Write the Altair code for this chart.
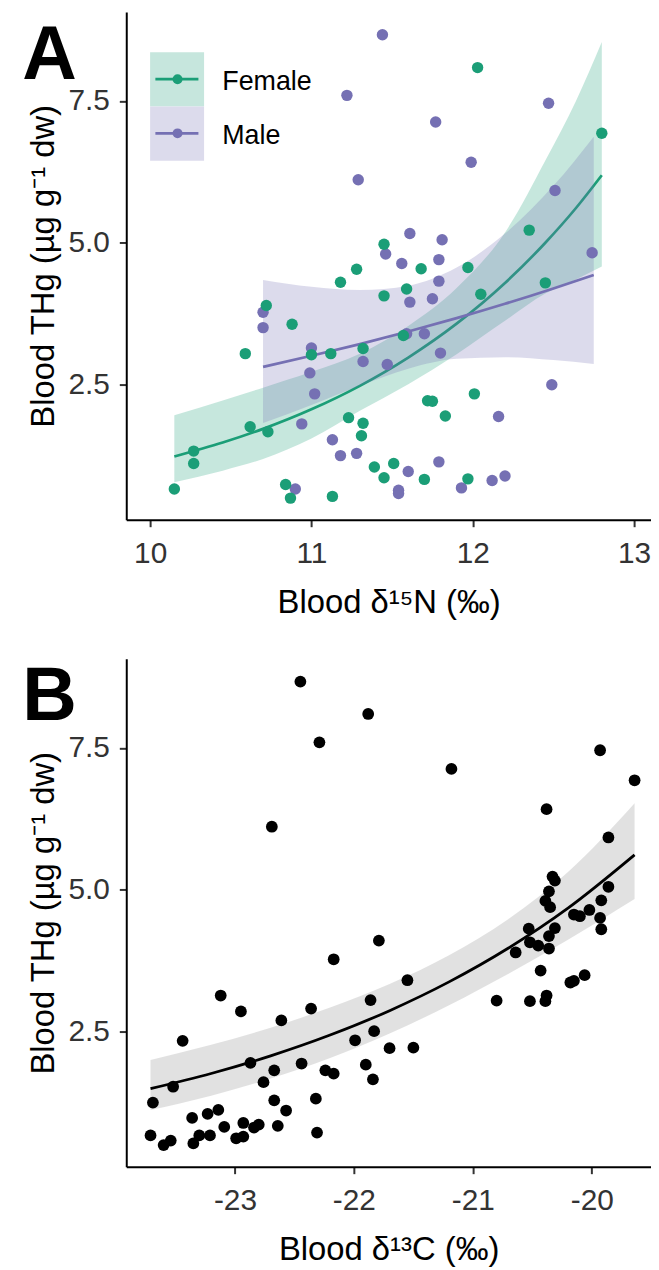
import altair as alt
import pandas as pd

# ---------------- Panel A: blood d15N vs THg by sex ----------------
fem_n15 = [11.28, 11.45, 12.03, 12.80, 12.35, 11.68, 11.97, 11.18, 11.45, 10.72,
           10.88, 10.59, 11.00, 11.12, 11.32, 10.62, 10.73, 11.23, 11.32, 11.31,
           11.39, 11.45, 10.27, 10.27, 10.15, 10.84, 10.87, 11.13, 11.59, 12.05,
           12.45, 11.57, 11.72, 11.75, 12.01, 11.83, 11.51, 11.70, 11.97]
fem_thg = [4.53, 4.97, 8.09, 6.93, 5.22, 4.54, 4.56, 4.30, 4.06, 3.89,
           3.56, 3.04, 3.02, 3.04, 3.13, 1.75, 1.66, 1.91, 1.81, 1.59,
           1.04, 0.85, 1.32, 1.10, 0.65, 0.73, 0.49, 0.52, 4.18, 4.09,
           4.29, 3.36, 2.21, 2.20, 2.33, 1.94, 1.10, 0.82, 0.83]
male_n15 = [11.44, 11.22, 11.29, 12.47, 11.77, 11.99, 12.51, 11.61, 11.81, 11.46,
            11.56, 11.79, 12.74, 10.70, 10.70, 11.00, 10.99, 11.02, 11.32, 11.47,
            10.94, 11.13, 11.18, 11.28, 10.90, 11.79, 11.61, 11.75, 11.59, 11.70,
            11.80, 12.49, 12.16, 11.60, 11.54, 11.54, 11.79, 11.93, 12.12, 12.20]
male_thg = [8.67, 7.60, 6.11, 7.46, 7.13, 6.42, 5.92, 5.16, 5.05, 4.80,
            4.63, 4.70, 4.82, 3.77, 3.50, 3.14, 2.70, 2.33, 2.90, 2.85,
            1.80, 1.52, 1.24, 1.28, 0.65, 4.32, 3.95, 4.01, 3.39, 3.39,
            3.05, 2.49, 1.93, 0.96, 0.63, 0.57, 1.13, 0.67, 0.80, 0.88]

# fitted curves and confidence bands
fem_fit_x = [10.15, 10.45, 10.70, 11.00, 11.30, 11.60, 11.90, 12.20, 12.45, 12.64, 12.80]
fem_fit = [1.223, 1.470, 1.712, 2.057, 2.472, 2.971, 3.569, 4.288, 4.998, 5.611, 6.190]
fem_lo = [0.772, 0.975, 1.180, 1.540, 2.030, 2.500, 3.030, 3.620, 4.100, 4.350, 4.580]
fem_hi = [1.953, 2.215, 2.440, 2.720, 3.040, 3.530, 4.200, 5.180, 6.450, 7.500, 8.540]

male_fit_x = [10.70, 11.00, 11.30, 11.60, 11.90, 12.20, 12.50, 12.75]
male_fit = [2.807, 3.002, 3.209, 3.430, 3.667, 3.920, 4.191, 4.430]
male_lo = [1.815, 2.135, 2.473, 2.775, 2.949, 2.978, 2.927, 2.856]
male_hi = [4.341, 4.221, 4.164, 4.240, 4.560, 5.161, 6.002, 6.871]

# ---------------- Panel B: blood d13C vs THg ----------------
c13 = [-22.45, -21.88, -22.29, -22.69, -21.18, -19.93, -19.64, -20.38, -19.86, -20.33,
       -20.31, -20.36, -20.39, -20.35, -19.86, -19.92, -20.15, -20.10, -20.02, -19.93,
       -19.92, -20.53, -20.31, -20.36, -20.52, -20.45, -20.36, -20.64, -20.43, -20.18,
       -20.15, -20.06, -20.38, -20.39, -20.52, -20.80, -21.55, -21.70, -21.50, -21.79,
       -22.17, -23.12, -22.95, -22.36, -22.61, -21.86, -23.44, -21.99, -21.83, -22.87,
       -22.44, -22.67, -22.24, -22.17, -21.90, -21.84, -22.76, -23.52, -23.69, -22.67,
       -22.32, -22.57, -23.36, -23.23, -23.14, -23.09, -22.93, -22.84, -22.80, -22.64,
       -23.71, -23.60, -23.54, -23.35, -23.30, -23.21, -22.99, -22.93, -22.31]
thg_b = [8.67, 8.10, 7.60, 6.11, 7.13, 7.46, 6.93, 6.42, 5.92, 5.23,
         5.16, 4.97, 4.80, 4.69, 5.05, 4.81, 4.56, 4.53, 4.64, 4.50,
         4.30, 4.31, 4.32, 4.18, 4.07, 4.01, 3.96, 3.89, 3.57, 3.36,
         3.39, 3.49, 3.13, 3.03, 3.03, 3.04, 3.40, 2.20, 2.21, 4.10,
         3.77, 3.13, 2.85, 2.90, 2.69, 3.05, 2.33, 2.34, 2.50, 1.94,
         1.93, 1.81, 1.81, 1.75, 1.91, 1.65, 1.60, 1.52, 1.24, 1.28,
         1.31, 1.10, 0.97, 1.04, 1.11, 0.81, 0.88, 0.80, 0.85, 0.83,
         0.66, 0.49, 0.57, 0.52, 0.66, 0.66, 0.61, 0.64, 0.71]

c_fit_x = [-23.71, -23.2, -22.7, -22.2, -21.7, -21.2, -20.7, -20.2, -19.64]
c_fit = [1.486, 1.754, 2.065, 2.432, 2.863, 3.371, 3.969, 4.673, 5.614]
c_lo = [1.109, 1.361, 1.664, 2.028, 2.459, 2.958, 3.514, 4.113, 4.832]
c_hi = [1.992, 2.260, 2.563, 2.917, 3.334, 3.842, 4.483, 5.309, 6.523]

sexes = ["Female", "Male"]
n15_ticks = [10, 11, 12, 13]
c13_ticks = [-23, -22, -21, -20]
thg_ticks = [2.5, 5.0, 7.5]

FONT = "Liberation Sans"
GREEN, PURPLE = "#1b9e77", "#7570b3"
W, H = 528, 511
YDOM = [0.108, 9.073]

ptsA = pd.DataFrame({
    "x": male_n15 + fem_n15,
    "y": male_thg + fem_thg,
    "sex": [sexes[1]] * len(male_n15) + [sexes[0]] * len(fem_n15),
})
fitF = pd.DataFrame({"x": fem_fit_x, "y": fem_fit, "lo": fem_lo, "hi": fem_hi})
fitM = pd.DataFrame({"x": male_fit_x, "y": male_fit, "lo": male_lo, "hi": male_hi})
ptsB = pd.DataFrame({"x": c13, "y": thg_b})
fitB = pd.DataFrame({"x": c_fit_x, "y": c_fit, "lo": c_lo, "hi": c_hi})
one = pd.DataFrame({"k": [0]})

def xenc(domain, ticks, title, field="x"):
    return alt.X(f"{field}:Q", scale=alt.Scale(domain=domain, nice=False, zero=False),
                 axis=alt.Axis(values=ticks, title=title, labelExpr="'' + datum.value"))

def yenc(field="y"):
    return alt.Y(f"{field}:Q", scale=alt.Scale(domain=YDOM, nice=False, zero=False),
                 axis=alt.Axis(values=thg_ticks, format=".1f", title="Blood THg (µg g⁻¹ dw)"))

XA = dict(domain=[9.852, 13.105], ticks=n15_ticks, title="Blood δ¹⁵N (‰)")
XB = dict(domain=[-23.914, -19.502], ticks=c13_ticks, title="Blood δ¹³C (‰)")

def band(df, color, xa, opacity=0.25):
    return alt.Chart(df).mark_area(color=color, opacity=opacity, interpolate="monotone").encode(
        x=xenc(**xa), y=yenc("lo"), y2="hi:Q")

def line(df, color, xa, width=2.7):
    return alt.Chart(df).mark_line(color=color, strokeWidth=width, interpolate="monotone").encode(
        x=xenc(**xa), y=yenc("y"))

pointsA = alt.Chart(ptsA).mark_circle(size=132, opacity=1).encode(
    x=xenc(**XA), y=yenc("y"),
    color=alt.Color("sex:N", scale=alt.Scale(domain=sexes, range=[GREEN, PURPLE]), legend=None))

# custom legend inside panel A
def legend_item(label, color, top, fill):
    box = alt.Chart(one).mark_rect(color=fill).encode(
        x=alt.value(24), x2=alt.value(78.3), y=alt.value(top), y2=alt.value(top + 54.5))
    ln = alt.Chart(one).mark_rule(color=color, strokeWidth=2.7).encode(
        x=alt.value(29.3), x2=alt.value(72.6), y=alt.value(top + 27))
    dot = alt.Chart(one).mark_circle(color=color, size=100, opacity=1).encode(
        x=alt.value(51.6), y=alt.value(top + 27))
    txt = alt.Chart(one).mark_text(text=label, font=FONT, fontSize=27, align="left",
                                   baseline="alphabetic", color="black").encode(
        x=alt.value(96.6), y=alt.value(top + 37.5))
    return box + ln + dot + txt

legF = legend_item("Female", GREEN, 40.7, "#c6e6dd")
legM = legend_item("Male", PURPLE, 95.2, "#dcdbec")

def panel_label(t, y):
    return alt.Chart(one).mark_text(text=t, font=FONT, fontSize=76, fontWeight="bold",
                                    align="left", baseline="alphabetic", color="black").encode(
        x=alt.value(-104.7), y=alt.value(y))

chartA = alt.layer(
    band(fitF, GREEN, XA), line(fitF, GREEN, XA),
    band(fitM, PURPLE, XA), line(fitM, PURPLE, XA),
    pointsA, legF, legM, panel_label("A", 68)
).properties(width=W, height=H)

pointsB = alt.Chart(ptsB).mark_circle(size=140, opacity=1, color="black").encode(
    x=xenc(**XB), y=yenc("y"))

chartB = alt.layer(
    band(fitB, "#bdbdbd", XB, opacity=0.45), line(fitB, "black", XB, width=2.8),
    pointsB, panel_label("B", 62)
).properties(width=W, height=H)

chart = alt.vconcat(chartA, chartB, spacing=40).properties(
    padding={"left": 14, "top": 0, "right": 0, "bottom": 0}
).configure_axis(
    domainColor="black", domainWidth=2, tickColor="#333333", tickWidth=2, tickSize=7,
    labelFont=FONT, labelFontSize=30, labelColor="#333333",
    titleFont=FONT, titleFontSize=33, titleFontWeight="normal", titleColor="black",
    grid=False
).configure_axisX(labelPadding=12, titlePadding=18).configure_axisY(
    labelPadding=10, titlePadding=8
).configure_view(stroke=None)

chart.save("out.html", embed_options={"renderer": "svg", "actions": False})
